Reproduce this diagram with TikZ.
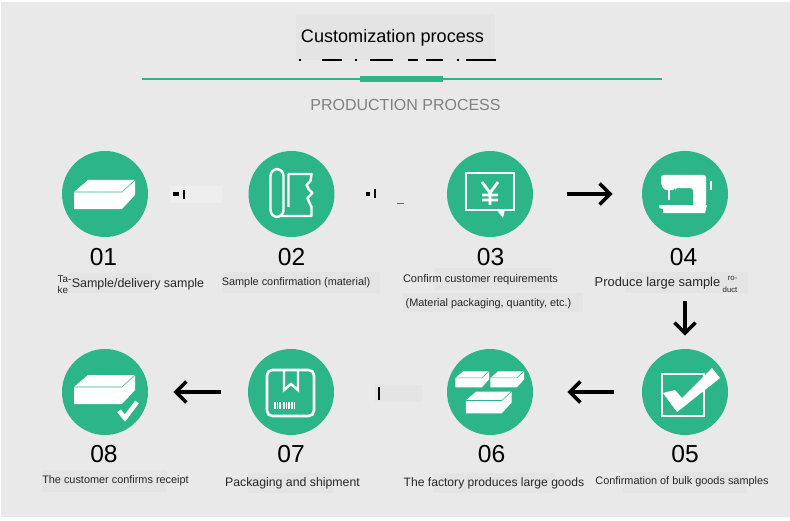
\documentclass[tikz,border=0pt]{standalone}
\usepackage{fontspec}
\setmainfont{Liberation Sans}
\usetikzlibrary{arrows.meta}
\definecolor{accent}{RGB}{45,181,138}
\definecolor{paper}{RGB}{233,233,233}
\definecolor{patch}{RGB}{228,228,228}
\newcommand{\fsz}[1]{\fontsize{#1}{#1}\selectfont}
\tikzset{
  boxicon/.pic={
    \fill[white] (-31,-2) -- (-17,-14) -- (30,-14) -- (30,1) -- (17,15) -- (-31,15) -- cycle;
    \draw[accent,line width=.3pt] (-31,-2) -- (17,-2) -- (30,-14);
  }
}
\begin{document}
\begin{tikzpicture}[x=0.02cm,y=-0.02cm,
  stepc/.style={circle,fill=accent,minimum size=1.72cm,inner sep=0pt},
  num/.style={font=\fsz{14},inner sep=0pt},
  lbl/.style={inner sep=0pt,text=black!85},
  arr/.style={-{Straight Barb[length=6pt,width=12pt,line width=2pt]},line width=2pt},
  ico/.style={white,line width=1.4pt},
  frag/.style={fill=black}
]
\useasboundingbox (0,0) rectangle (790,520);
\fill[white] (0,0) rectangle (790,520);
\fill[paper] (1,2) rectangle (790,517);
% Patches behind the texts
\foreach \xa/\ya/\xb/\yb in {296/14/495/60,68/273/152/293,223/272/380/293,435/268/552/290,
  403/293/583/312,625/272/748/293,623/472/747/493,433/473/555/493,248/473/333/493,
  42/470/167/492,375/385/422/402}
  \fill[patch] (\xa,\ya) rectangle (\xb,\yb);
\fill[white!25!paper] (170,186) rectangle (222,203);
% Header
\foreach \xa/\xb in {299/301,322/342,355/357,370/393,408/418,426/443,457/459,466/496}
  \fill[black] (\xa,59.5) rectangle (\xb,61.5);
\draw[accent,line width=1.1pt] (142,79) -- (662,79);
\fill[accent] (360,76) rectangle (443,82);
\node[font=\fsz{10.3},inner sep=0pt] (title) at (392.5,37.5) {Customization process};
\node[font=\fsz{9.1},text=black!50,inner sep=0pt] (sub) at (405.5,105) {PRODUCTION PROCESS};
% Row 1
\node[stepc] (c1) at (105,194) {};
\node[stepc] (c2) at (291.5,194) {};
\node[stepc] (c3) at (490,194) {};
\node[stepc] (c4) at (685,194) {};
% Row 2
\node[stepc] (c5) at (685,392) {};
\node[stepc] (c6) at (490,392) {};
\node[stepc] (c7) at (291,392) {};
\node[stepc] (c8) at (105,392) {};
% Numbers
\node[num] (n1) at (103.5,257) {01};
\node[num] (n2) at (291.5,257) {02};
\node[num] (n3) at (490.5,257) {03};
\node[num] (n4) at (683.5,257) {04};
\node[num] (n5) at (685,454) {05};
\node[num] (n6) at (491.5,454) {06};
\node[num] (n7) at (291,454) {07};
\node[num] (n8) at (104,454) {08};
% Texts
\node[lbl,font=\fsz{7.1}] (t1) at (138,284) {Sample/delivery sample};
\node[lbl,font=\fsz{5.6},align=left] (t1a) at (64.5,284.5) {Ta-\\[1pt]ke};
\node[lbl,font=\fsz{6.2}] (t2) at (296,283) {Sample confirmation (material)};
\node[lbl,font=\fsz{6.3}] (t3) at (480.5,280) {Confirm customer requirements};
\node[lbl,font=\fsz{6.2}] (t3a) at (488.5,304) {(Material packaging, quantity, etc.)};
\node[lbl,font=\fsz{7.35}] (t4) at (657.5,283) {Produce large sample};
\node[lbl,font=\fsz{4.4},align=right] (t4a) at (730,284.5) {ro-\\[2pt]duct};
\node[lbl,font=\fsz{6.2}] (t5) at (682,482) {Confirmation of bulk goods samples};
\node[lbl,font=\fsz{6.9}] (t6) at (494,483.5) {The factory produces large goods};
\node[lbl,font=\fsz{7}] (t7) at (292.5,483.5) {Packaging and shipment};
\node[lbl,font=\fsz{6.2}] (t8) at (115.5,481) {The customer confirms receipt};
% Arrows
\draw[arr,shorten <=.68cm,shorten >=.58cm] (c3) -- (c4);
\draw[arr,shorten <=1.28cm,shorten >=.26cm] (c4) -- (c5);
\draw[arr,shorten <=.56cm,shorten >=.68cm] (c5) -- (c6);
\draw[arr,shorten <=.54cm,shorten >=.5cm] (c7) -- (c8);
% Leftover marks between circles
\fill[frag] (173,192) rectangle (179,196);
\fill[frag] (183,190) rectangle (184.5,199);
\fill[frag] (366,192) rectangle (370,196);
\fill[frag] (374,189) rectangle (375.5,198);
\fill[black!60] (397,202.5) rectangle (404,204);
\fill[frag] (378,387) rectangle (380,400);
% Icons
\pic at (c1.center) {boxicon};
% 02 roll
\draw[ico,rounded corners=4pt] (-21,-25) ++(291.5,194) rectangle ++(13,48);
\draw[ico,line join=round,shift={(291.5,194)}] (-3,13) -- (-3,-20) -- (20,-20) -- (19,-13)
  -- (15,-9) -- (17,-5) -- (21,-1) -- (16,4) -- (18,9) -- (20,13) -- (20,22) -- (-12,22);
% 03 note
\begin{scope}[shift={(c3.center)}]
  \draw[ico] (7,16) -- (-24,16) -- (-24,-21) -- (24,-21) -- (24,16) -- (14,16);
  \fill[white] (6,15) -- (15,15) -- (13,24) -- cycle;
  \draw[ico,line width=1.6pt] (-8,-12) -- (0,-1) -- (8,-12) (0,-1) -- (0,11) (-8,1) -- (8,1) (-8,6) -- (8,6);
\end{scope}
% 04 sewing machine
\begin{scope}[shift={(c4.center)}]
  \fill[white,rounded corners=1.5pt] (-24,-19) -- (21,-19) -- (21,12) -- (8,12) -- (8,-6) -- (-10,-6) -- (-10,-4)
    -- (-21,-4) -- (-24,-10) -- cycle;
  \fill[white] (-26,11) -- (22,11) -- (20,19) -- (-22,19) -- (-22,15) -- (-26,14) -- cycle;
  \draw[white,line width=.8pt] (-16,-4) -- (-16,6);
  \fill[white] (24.5,-13) rectangle (26.5,-4);
\end{scope}
% 05 check
\begin{scope}[shift={(c5.center)}]
  \draw[white,line width=.9pt] (-23,-18) rectangle (19,24);
  \fill[white] (-22,1) -- (-10,-2) -- (-3,6) -- (27,-24) -- (35,-14) -- (-8,20) -- cycle;
\end{scope}
% 06 boxes
\pic[scale=.55] at ([shift={(-17.5,-13)}]c6.center) {boxicon};
\pic[scale=.55] at ([shift={(17.5,-13)}]c6.center) {boxicon};
\pic[scale=.75] at ([shift={(-1,10)}]c6.center) {boxicon};
% 07 package
\begin{scope}[shift={(c7.center)}]
  \draw[ico,line width=1.5pt,rounded corners=3pt] (-24,-22) rectangle (23,24);
  \draw[ico] (-7,-22) -- (-7,-2) -- (0,-8) -- (7,-2) -- (7,-22);
  \foreach \bx in {-17,-14.5,-12,-8,-5.5,-3,0,2.5}
    \fill[white] (\bx,10) rectangle ++(1.6,7);
\end{scope}
% 08 box and tick
\pic at ([shift={(0,-3)}]c8.center) {boxicon};
\draw[white,line width=2.6pt] ([shift={(14,19)}]c8.center) -- ([shift={(20,26)}]c8.center) -- ([shift={(32,10)}]c8.center);
\end{tikzpicture}
\end{document}
